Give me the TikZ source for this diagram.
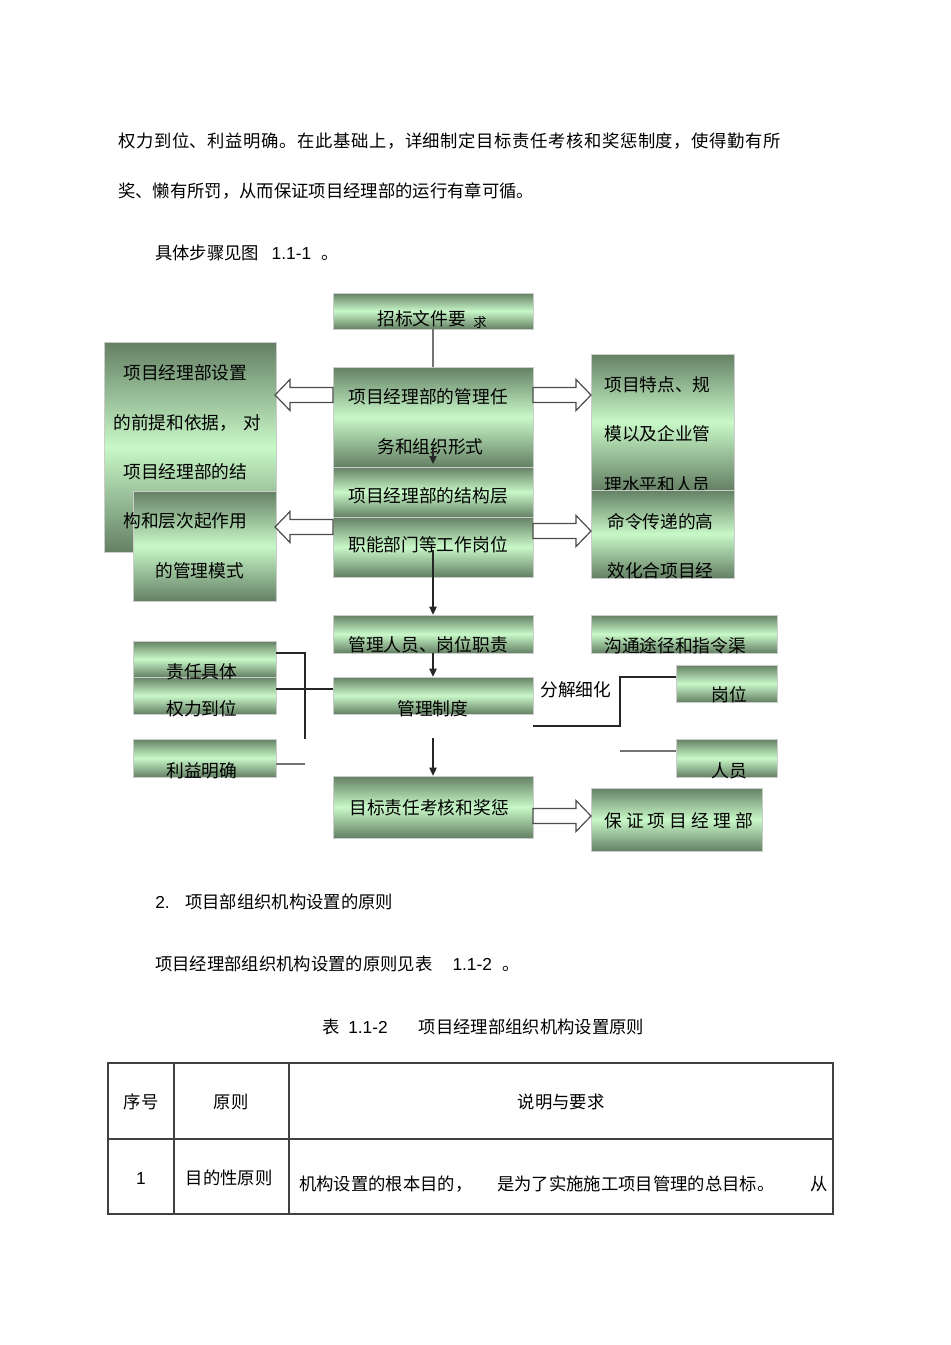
\documentclass[tikz,border=0pt]{standalone}
\usepackage{fontspec}
\setmainfont{Noto Sans CJK SC}
\newfontfamily\lat{Liberation Sans}
\usetikzlibrary{arrows.meta,fit}
\definecolor{gdark}{RGB}{100,128,100}
\definecolor{glight}{RGB}{200,248,200}
\newcommand\fbody{\fontsize{13}{15}\selectfont}
\newcommand\fdia{\fontsize{13.3}{15}\selectfont}
\begin{document}
\begin{tikzpicture}[x=0.75pt,y=-0.75pt,
  gbox/.style={draw=black!20, line width=0.4pt, top color=gdark, bottom color=gdark, middle color=glight, inner sep=0pt},
  dt/.style={font=\fdia, inner sep=0pt, anchor=west},
  bt/.style={font=\fbody, inner sep=0pt, anchor=west},
  ct/.style={font=\fbody, inner sep=0pt, anchor=center},
  arr/.style={draw=black!85, line width=0.9pt, -{Triangle[length=6pt,width=5.5pt]}},
  cline/.style={draw=black!85, line width=0.9pt},
  gline/.style={draw=black!55, line width=0.9pt},
  hollow/.style={draw=black!70, line width=0.9pt, fill=white, line join=miter},
  tline/.style={draw=black!75, line width=0.8pt},
  pics/harrow/.style={code={\draw[hollow] (0,-7.5) -- (43,-7.5) -- (43,-15.5) -- (58,0) -- (43,15.5) -- (43,7.5) -- (0,7.5) -- cycle;}}]
\useasboundingbox[fill=white] (0,0) rectangle (950,1345);

% ---------- body text ----------
\node[bt] (p1) at (118,141) {{\addfontfeature{LetterSpace=3.4}权力到位、利益明确。在此基础上，详细制定目标责任考核和奖惩制度，使得勤有所}};
\node[bt] (p2) at (118,191) {奖、懒有所罚，从而保证项目经理部的运行有章可循。};
\node[bt] (p3) at (155,253) {具体步骤见图\hspace{0.72em}{\lat 1.1-1}\hspace{0.6em}。};

% ---------- left boxes ----------
\node[gbox, fit={(104,342) (276,552)}] (lq) {};
\node[gbox, fit={(133,491) (276,601)}] (lm) {};
\node[dt] (lq1) at (123,373) {项目经理部设置};
\node[dt] (lq2) at (113,423) {的前提和依据，\hspace{0.34em}对};
\node[dt] (lq3) at (123,472) {项目经理部的结};
\node[dt] (lq4) at (123,521) {构和层次起作用};
\node[dt] (lm1) at (155,571) {的管理模式};

\node[gbox, fit={(133,641) (276,677)}] (zr) {};
\node[gbox, fit={(133,677) (276,714)}] (ql) {};
\node[dt] (zr1) at (166,672) {责任具体};
\node[dt] (ql1) at (166,709) {权力到位};
\node[gbox, fit={(133,739) (276,777)}] (ly) {};
\node[dt] (ly1) at (166,771) {利益明确};

% ---------- centre boxes ----------
\node[gbox, fit={(333,293) (533,329)}] (zb) {};
\node[dt] (zb1) at (377,319) {招标文件要};
\node[dt, font=\fontsize{10}{12}\selectfont] (zb2) at (473,322) {求};

\node[gbox, fit={(333,367) (533,467)}] (rw) {};
\node[dt] (rw1) at (348,397) {项目经理部的管理任};
\node[dt] (rw2) at (377,447) {务和组织形式};
\node[gbox, fit={(333,467) (533,517)}] (js) {};
\node[dt] (js1) at (348,496) {项目经理部的结构层};
\node[gbox, fit={(333,517) (533,577)}] (zn) {};
\node[dt] (zn1) at (348,545) {职能部门等工作岗位};

\node[gbox, fit={(333,615) (533,653)}] (pm) {};
\node[dt] (pm1) at (348,645) {管理人员、岗位职责};
\node[gbox, fit={(333,677) (533,714)}] (zd) {};
\node[dt] (zd1) at (397,709) {管理制度};
\node[gbox, fit={(333,776) (533,838)}] (mb) {};
\node[dt] (mb1) at (349,808) {目标责任考核和奖惩};

% ---------- right boxes ----------
\node[gbox, fit={(591,354) (734,490)}] (ra) {};
\node[dt] (ra1) at (604,385) {项目特点、规};
\node[dt] (ra2) at (604,434) {模以及企业管};
\node[dt] (ra3) at (604,485) {理水平和人员};
\node[gbox, fit={(591,490) (734,578)}] (rb) {};
\node[dt] (rb1) at (607,522) {命令传递的高};
\node[dt] (rb2) at (607,571) {效化合项目经};

\node[gbox, fit={(591,615) (777,653)}] (gt) {};
\node[dt] (gt1) at (604,646) {沟通途径和指令渠};
\node[gbox, fit={(676,665) (777,702)}] (gw) {};
\node[dt] (gw1) at (711,695) {岗位};
\node[gbox, fit={(676,739) (777,777)}] (ry) {};
\node[dt] (ry1) at (711,771) {人员};
\node[gbox, fit={(591,788) (762,851)}] (bz) {};
\node[dt] (bz1) at (604,821) {保\hspace{0.23em}证\hspace{0.23em}项\hspace{0.23em}目\hspace{0.23em}经\hspace{0.23em}理\hspace{0.23em}部};

\node[dt] (fj) at (540,690) {分解细化};

% ---------- connectors ----------
\draw[gline] (zb.south) -- (rw.north);
\coordinate (a1s) at (433,449);
\coordinate (a1e) at (433,464);
\draw[arr] (a1s) -- (a1e);
\coordinate (a2s) at (433,550);
\draw[arr] (a2s) -- (a2s |- pm.north);
\draw[arr] (pm.south) -- (zd.north);
\coordinate (a4s) at (433,738);
\draw[arr] (a4s) -- (a4s |- mb.north);

\coordinate (l1) at (276,653);
\coordinate (l2) at (305,653);
\coordinate (l3) at (305,739);
\draw[cline] (l1) -- (l2) -- (l3);
\coordinate (l4) at (276,689);
\draw[cline] (l4) -- (l4 -| zd.west);
\coordinate (l5) at (276,764);
\coordinate (l6) at (305,764);
\draw[gline] (l5) -- (l6);

\coordinate (r1) at (533,726);
\coordinate (r2) at (620,726);
\coordinate (r3) at (620,677);
\draw[cline] (r1) -- (r2) -- (r3) -- (r3 -| gw.west);
\coordinate (r4) at (620,751);
\draw[gline] (r4) -- (r4 -| ry.west);

% ---------- hollow block arrows ----------
\pic at (533,395) {harrow};
\pic at (533,531) {harrow};
\pic at (533,816) {harrow};
\pic[rotate=180] at (333,395) {harrow};
\pic[rotate=180] at (333,527) {harrow};

% ---------- lower text ----------
\node[bt] (s2) at (155,902) {{\lat 2.}\hspace{0.9em}项目部组织机构设置的原则};
\node[bt] (s3) at (155,964) {项目经理部组织机构设置的原则见表\hspace{1.15em}{\lat 1.1-2}\hspace{0.6em}。};
\node[bt] (cap) at (322,1027) {表\hspace{0.5em}{\lat 1.1-2}\hspace{1.8em}项目经理部组织机构设置原则};

% ---------- table ----------
\draw[tline] (108,1063) rectangle (833,1214);
\draw[tline] (108,1139) -- (833,1139);
\draw[tline] (174,1063) -- (174,1214);
\draw[tline] (289,1063) -- (289,1214);
\node[ct] (h1) at (141,1102) {序号};
\node[ct] (h2) at (231,1102) {原则};
\node[ct] (h3) at (561,1102) {说明与要求};
\node[ct, font=\lat\fbody] (c1) at (141,1179) {1};
\node[ct] (c2) at (229,1178) {目的性原则};
\node[bt] (c3a) at (299,1184) {机构设置的根本目的，};
\node[bt] (c3b) at (497,1184) {是为了实施施工项目管理的总目标。};
\node[bt] (c3c) at (810,1184) {从};
\end{tikzpicture}
\end{document}
